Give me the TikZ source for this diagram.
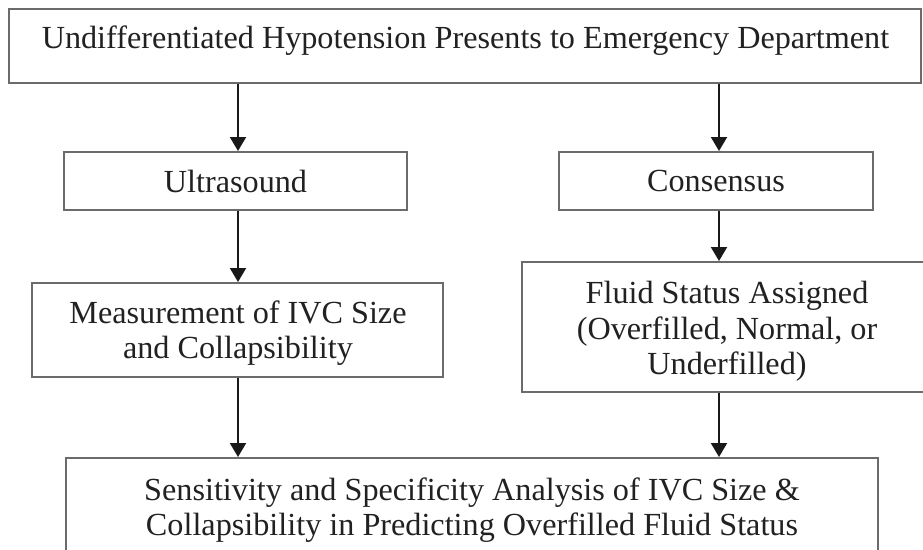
\documentclass[tikz,border=0pt]{standalone}
\usepackage{fontspec}
\setmainfont{Liberation Serif}
\usetikzlibrary{arrows.meta,calc}
\definecolor{bordergray}{rgb}{0.42,0.42,0.42}
\definecolor{inkcol}{rgb}{0.13,0.13,0.13}
\tikzset{
  box/.style={draw=bordergray, line width=2pt, fill=white, inner sep=0pt, align=center,
    text=inkcol, font=\fontsize{32.2}{35.5}\selectfont},
  txt/.style={inner sep=0pt, text=inkcol, font=\fontsize{32.2}{35.5}\selectfont},
  arr/.style={draw=black!90, line width=2pt, -{Triangle[width=16pt,length=14pt]}}
}
\begin{document}
\begin{tikzpicture}[x=1pt,y=-1pt]
\useasboundingbox (0,0) rectangle (923,549);
\clip (0,0) rectangle (923,549);
\fill[white] (0,0) rectangle (923,549);
\coordinate (Lx) at (238,0);
\coordinate (Rx) at (719,0);
% top
\node[box, minimum width=912pt, minimum height=74.5pt] (top) at (465,45.75) {};
\node[txt, anchor=base] (toptxt) at (465.5,48.3) {Undifferentiated Hypotension Presents to Emergency Department};
% second row
\node[box, minimum width=343pt, minimum height=58pt] (ultra) at (235.5,181) {Ultrasound};
\node[box, minimum width=314pt, minimum height=58pt] (cons) at (716,181) {Consensus};
% third row
\node[box, minimum width=411pt, minimum height=94pt] (meas) at (237.5,330) {};
\node[txt, align=center] (meastxt) at (238,333) {Measurement of IVC Size\\and Collapsibility};
\node[box, minimum width=410pt, minimum height=130pt] (fluid) at (727,327) {};
\node[txt, align=center] (fluidtxt) at (727,331.5) {Fluid Status Assigned\\(Overfilled, Normal, or\\Underfilled)};
% bottom
\node[box, minimum width=812pt, minimum height=101pt] (bottom) at (472,508.5) {};
\node[txt, align=center] (bottomtxt) at (472,510) {Sensitivity and Specificity Analysis of IVC Size \&\\Collapsibility in Predicting Overfilled Fluid Status};
% arrows
\draw[arr] (top.south -| Lx) -- (ultra.north -| Lx);
\draw[arr] (top.south -| Rx) -- (cons.north -| Rx);
\draw[arr] (ultra.south -| Lx) -- (meas.north -| Lx);
\draw[arr] (cons.south -| Rx) -- (fluid.north -| Rx);
\draw[arr] (meas.south -| Lx) -- (bottom.north -| Lx);
\draw[arr] (fluid.south -| Rx) -- (bottom.north -| Rx);
\end{tikzpicture}
\end{document}
